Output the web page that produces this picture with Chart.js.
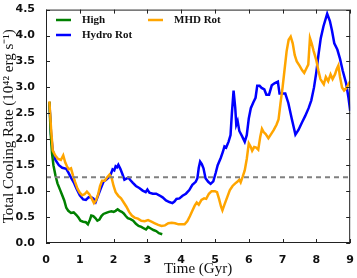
<!DOCTYPE html>
<html>
<head>
<meta charset="utf-8">
<script src="https://cdn.jsdelivr.net/npm/chart.js@4.4.1/dist/chart.umd.min.js"></script>
<style>
  html, body { margin: 0; padding: 0; background: #fff; }
  #wrap { width: 357px; height: 278px; position: relative; }
</style>
</head>
<body>
<div id="wrap"><canvas id="chart"></canvas></div>
<script>
// ── Data (time in Gyr, rate in 1e42 erg/s) ──────────────────────────────────
const highTime = [0.10,0.14,0.18,0.22,0.28,0.34,0.42,0.48,0.54,0.60,0.66,0.74,0.82,0.90,0.96,1.02,1.10,1.18,1.24,1.30,1.34,1.40,1.46,1.52,1.58,1.64,1.70,1.78,1.86,1.94,2.00,2.06,2.12,2.18,2.24,2.30,2.36,2.42,2.50,2.58,2.66,2.74,2.82,2.90,2.96,3.02,3.10,3.18,3.26,3.34,3.44];
const highRate = [2.72,2.10,1.72,1.50,1.30,1.15,1.02,0.92,0.82,0.68,0.62,0.58,0.59,0.54,0.49,0.43,0.41,0.40,0.36,0.45,0.53,0.52,0.48,0.43,0.45,0.52,0.56,0.58,0.60,0.61,0.60,0.62,0.65,0.62,0.60,0.57,0.52,0.48,0.46,0.43,0.37,0.33,0.31,0.28,0.26,0.31,0.28,0.25,0.23,0.19,0.17];

const hydroTime = [0.10,0.15,0.20,0.28,0.38,0.48,0.60,0.66,0.74,0.82,0.90,1.00,1.10,1.18,1.26,1.34,1.40,1.47,1.55,1.62,1.70,1.78,1.86,1.92,1.97,2.02,2.06,2.10,2.14,2.20,2.26,2.32,2.38,2.44,2.50,2.57,2.66,2.76,2.86,2.95,3.00,3.06,3.16,3.26,3.35,3.45,3.55,3.65,3.74,3.80,3.86,3.95,4.04,4.14,4.24,4.33,4.43,4.48,4.52,4.56,4.61,4.66,4.72,4.80,4.87,4.95,5.02,5.08,5.17,5.23,5.28,5.33,5.40,5.46,5.50,5.55,5.60,5.63,5.67,5.72,5.80,5.88,5.94,6.00,6.06,6.14,6.20,6.25,6.32,6.38,6.46,6.52,6.60,6.68,6.76,6.86,6.91,7.00,7.08,7.17,7.27,7.38,7.47,7.57,7.67,7.77,7.85,7.93,8.00,8.06,8.13,8.21,8.32,8.40,8.46,8.53,8.62,8.70,8.78,8.88,8.95,9.00];
const hydroRate = [2.72,2.10,1.78,1.60,1.50,1.45,1.43,1.36,1.26,1.17,1.05,0.92,0.84,0.83,0.88,0.88,0.86,0.79,0.93,1.05,1.18,1.22,1.27,1.33,1.42,1.40,1.48,1.46,1.51,1.43,1.33,1.22,1.24,1.26,1.21,1.16,1.10,1.06,1.01,0.98,1.03,0.97,0.95,0.95,0.92,0.88,0.82,0.79,0.77,0.80,0.85,0.86,0.91,0.95,1.02,1.12,1.18,1.25,1.45,1.57,1.52,1.44,1.25,1.18,1.14,1.19,1.35,1.50,1.64,1.75,1.86,1.84,1.95,2.08,2.50,2.94,2.60,2.28,2.35,2.16,2.06,1.95,2.08,2.40,2.60,2.72,2.80,3.03,3.03,2.99,2.96,2.86,2.86,3.04,3.08,3.11,2.88,2.88,2.88,2.70,2.40,2.09,2.18,2.32,2.45,2.60,2.75,3.00,3.30,3.62,3.95,4.18,4.42,4.28,4.10,3.85,3.73,3.55,3.32,3.08,2.80,2.55];

const mhdTime = [0.10,0.15,0.20,0.28,0.36,0.44,0.51,0.57,0.62,0.67,0.74,0.80,0.86,0.93,1.00,1.07,1.14,1.21,1.28,1.35,1.42,1.48,1.54,1.60,1.66,1.74,1.80,1.88,1.94,2.00,2.06,2.14,2.22,2.30,2.38,2.46,2.54,2.62,2.72,2.82,2.92,3.02,3.12,3.22,3.32,3.42,3.52,3.62,3.72,3.82,3.92,4.02,4.10,4.18,4.26,4.33,4.40,4.46,4.52,4.60,4.68,4.74,4.82,4.90,5.00,5.06,5.12,5.18,5.22,5.28,5.36,5.44,5.52,5.60,5.66,5.72,5.76,5.82,5.88,5.94,6.00,6.06,6.10,6.16,6.22,6.28,6.34,6.39,6.44,6.50,6.58,6.66,6.74,6.82,6.88,6.94,7.00,7.06,7.12,7.18,7.24,7.30,7.36,7.42,7.50,7.58,7.64,7.70,7.76,7.81,7.86,7.92,8.00,8.06,8.12,8.18,8.22,8.28,8.35,8.42,8.48,8.55,8.60,8.65,8.70,8.76,8.82,8.88,8.94,9.00];
const mhdRate = [2.73,2.20,1.78,1.68,1.62,1.60,1.69,1.55,1.48,1.42,1.44,1.30,1.18,1.05,0.97,0.92,0.94,0.99,0.94,0.86,0.77,0.82,0.93,1.10,1.20,1.20,1.26,1.32,1.26,1.10,0.98,0.91,0.86,0.78,0.70,0.60,0.53,0.49,0.47,0.43,0.42,0.44,0.41,0.38,0.35,0.33,0.34,0.38,0.39,0.38,0.36,0.36,0.36,0.42,0.52,0.62,0.72,0.78,0.74,0.83,0.86,0.85,0.95,1.00,1.00,0.98,0.85,0.70,0.63,0.74,0.88,1.02,1.10,1.15,1.18,1.22,1.17,1.28,1.40,1.62,1.92,1.85,1.78,1.85,1.84,1.80,2.05,2.20,2.14,2.10,2.02,2.10,2.18,2.28,2.38,2.70,3.00,3.35,3.70,3.92,3.98,3.85,3.62,3.50,3.42,3.33,3.28,3.36,3.44,3.95,3.85,3.70,3.52,3.32,3.16,3.10,3.06,3.20,3.12,3.25,3.16,3.25,3.35,3.42,3.20,3.00,2.94,2.98,3.05,3.12];

const refTime = [0, 9];
const refRate = [1.27, 1.27];

const xTicks = [0,1,2,3,4,5,6,7,8,9];
const yTicks = [0,0.5,1,1.5,2,2.5,3,3.5,4,4.5];

const zip = (t, v) => t.map((x, i) => ({ x, y: v[i] }));

// ── Frame, inward ticks and legend ──────────────────────────────────────────
const framePlugin = {
  id: "frame",
  afterDatasetsDraw(chart) {
    const { ctx, chartArea: a, scales: { x, y } } = chart;
    ctx.save();
    ctx.strokeStyle = "#222";
    ctx.lineWidth = 1;
    ctx.strokeRect(a.left + 0.5, a.top + 0.5, a.right - a.left - 1, a.bottom - a.top - 1);
    ctx.beginPath();
    xTicks.forEach(t => {
      const px = Math.round(x.getPixelForValue(t)) + 0.5;
      ctx.moveTo(px, a.bottom); ctx.lineTo(px, a.bottom - 4);
      ctx.moveTo(px, a.top); ctx.lineTo(px, a.top + 4);
    });
    yTicks.forEach(t => {
      const py = Math.round(y.getPixelForValue(t)) + 0.5;
      ctx.moveTo(a.left, py); ctx.lineTo(a.left + 4, py);
      ctx.moveTo(a.right, py); ctx.lineTo(a.right - 4, py);
    });
    ctx.stroke();

    // legend, two columns like the original
    const items = [
      { label: "High", color: "#008000", x: 56, y: 20 },
      { label: "Hydro Rot", color: "#0000ff", x: 56, y: 35 },
      { label: "MHD Rot", color: "#ffa500", x: 148, y: 20 },
    ];
    ctx.font = "bold 11px 'Liberation Serif', serif";
    ctx.textBaseline = "middle";
    items.forEach(it => {
      ctx.strokeStyle = it.color;
      ctx.lineWidth = 2.5;
      ctx.beginPath();
      ctx.moveTo(it.x, it.y); ctx.lineTo(it.x + 15, it.y);
      ctx.stroke();
      ctx.fillStyle = "#111";
      ctx.fillText(it.label, it.x + 26, it.y);
    });
    ctx.restore();
  }
};

const lineStyle = color => ({
  borderColor: color,
  backgroundColor: color,
  borderWidth: 2.5,
  pointRadius: 0,
  tension: 0,
  fill: false,
});

new Chart(document.getElementById("chart"), {
  type: "line",
  data: {
    datasets: [
      { label: "ref", data: zip(refTime, refRate), borderColor: "#808080", borderWidth: 2, borderDash: [5, 4], pointRadius: 0 },
      { label: "MHD Rot", data: zip(mhdTime, mhdRate), ...lineStyle("#ffa500") },
      { label: "High", data: zip(highTime, highRate), ...lineStyle("#008000") },
      { label: "Hydro Rot", data: zip(hydroTime, hydroRate), ...lineStyle("#0000ff") },
    ]
  },
  options: {
    responsive: true,
    maintainAspectRatio: false,
    animation: false,
    layout: { padding: { top: 5, right: 5, left: 0, bottom: 0 } },
    plugins: { legend: { display: false }, tooltip: { enabled: false } },
    scales: {
      x: {
        type: "linear", min: 0, max: 9,
        afterBuildTicks: s => { s.ticks = xTicks.map(v => ({ value: v })); },
        afterFit: s => { s.height = 35; },
        grid: { display: false }, border: { display: false },
        ticks: { color: "#111", padding: 3, font: { family: "'DejaVu Sans'", weight: "bold", size: 11 } },
        title: { display: true, text: "Time (Gyr)", color: "#111", padding: { top: 1, bottom: 0 },
                 font: { family: "'Liberation Serif'", weight: "normal", size: 15 } },
      },
      y: {
        type: "linear", min: 0, max: 4.5,
        afterBuildTicks: s => { s.ticks = yTicks.map(v => ({ value: v })); },
        afterFit: s => { s.width = 46; },
        grid: { display: false }, border: { display: false },
        ticks: { color: "#111", padding: 3, font: { family: "'DejaVu Sans'", weight: "bold", size: 11 },
                 callback: v => Number(v).toFixed(1) },
        title: { display: true, text: "Total Cooling Rate (10\u2074\u00b2 erg s\u207b\u00b9)", color: "#111",
                 padding: { top: 0, bottom: 1 },
                 font: { family: "'Liberation Serif'", weight: "normal", size: 15 } },
      }
    }
  },
  plugins: [framePlugin]
});
</script>
</body>
</html>
